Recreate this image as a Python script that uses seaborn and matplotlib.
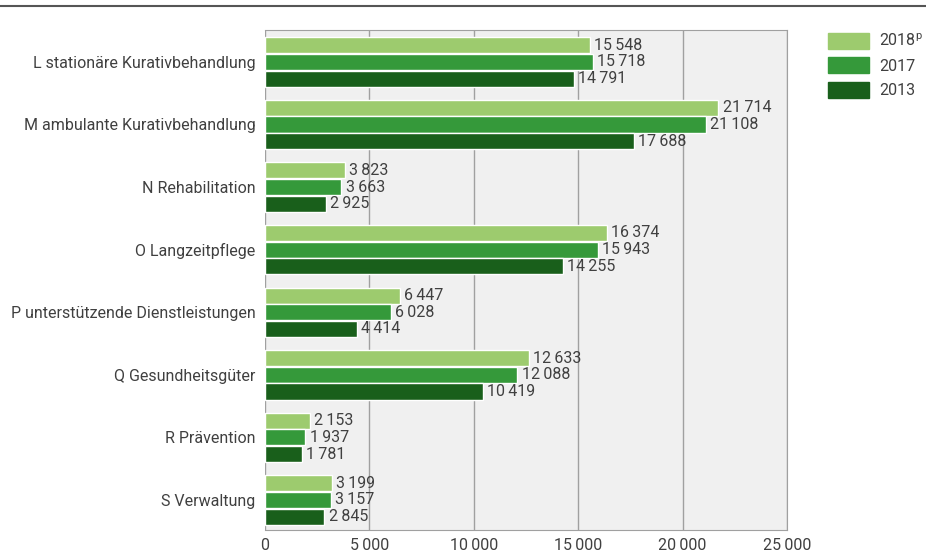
import matplotlib
matplotlib.use("Agg")
import matplotlib.pyplot as plt
import matplotlib.patches as mpatches
import seaborn as sns
import pandas as pd

categories = [
    "L stationäre Kurativbehandlung",
    "M ambulante Kurativbehandlung",
    "N Rehabilitation",
    "O Langzeitpflege",
    "P unterstützende Dienstleistungen",
    "Q Gesundheitsgüter",
    "R Prävention",
    "S Verwaltung",
]
years = ["2018", "2017", "2013"]
values_2018 = [15548, 21714, 3823, 16374, 6447, 12633, 2153, 3199]
values_2017 = [15718, 21108, 3663, 15943, 6028, 12088, 1937, 3157]
values_2013 = [14791, 17688, 2925, 14255, 4414, 10419, 1781, 2845]
legend_labels = ["2018$^{\\mathsf{p}}$", "2017", "2013"]
x_ticks = [0, 5000, 10000, 15000, 20000, 25000]

colors = ["#9dcb6e", "#35993a", "#195f1b"]
text_color = "#404040"
fs = 11.5

# long format table for seaborn
df = pd.DataFrame({
    "kategorie": categories * 3,
    "jahr": [y for y in years for _ in categories],
    "wert": values_2018 + values_2017 + values_2013,
})

sns.set_style("white")
plt.rcParams["font.family"] = ["Roboto", "DejaVu Sans"]
plt.rcParams["mathtext.fontset"] = "custom"
plt.rcParams["mathtext.sf"] = "Roboto"

fig = plt.figure(figsize=(9.26, 5.58), dpi=100)
ax = fig.add_axes([265 / 926, 1 - 530 / 558, (787 - 265) / 926, 500 / 558])
ax.set_facecolor("#f0f0f0")

sns.barplot(data=df, y="kategorie", x="wert", hue="jahr", hue_order=years,
            palette=colors, orient="h", width=0.8, gap=0.04,
            saturation=1, legend=False, ax=ax)


def fmt(v):
    return f"{int(round(v)):,}".replace(",", "\u2009")


for container in ax.containers:
    ax.bar_label(container, labels=[fmt(v) for v in container.datavalues],
                 padding=3, fontsize=fs, color=text_color)

ax.set_xlim(0, 25000)
ax.set_ylim(7.48, -0.51)
ax.set_xticks(x_ticks)
ax.set_xticklabels([fmt(t) for t in x_ticks], fontsize=fs, color=text_color)
ax.grid(axis="x", color="#a0a0a0", linewidth=1)
ax.set_axisbelow(True)
ax.set_xlabel("")
ax.set_ylabel("")
ax.tick_params(axis="x", direction="inout", length=8, color="#909090",
               width=1, pad=2)
ax.tick_params(axis="y", length=0, labelsize=fs, labelcolor=text_color, pad=7)
for side in ["top", "right", "bottom"]:
    ax.spines[side].set_visible(True)
    ax.spines[side].set_color("#a0a0a0")
ax.spines["left"].set_visible(False)

handles = [mpatches.Patch(color=c) for c in colors]
fig.legend(handles, legend_labels, loc="upper left",
           bbox_to_anchor=(815 / 926, 1 - 20 / 558), frameon=False,
           fontsize=fs, handlelength=2.6, handleheight=1.15,
           labelspacing=0.5, handletextpad=0.6, borderpad=0.3,
           labelcolor=text_color)

# horizontal rule at the top
fig.add_artist(plt.Line2D([0, 1], [1 - 6 / 558, 1 - 6 / 558],
                          color="#555555", linewidth=1.5,
                          transform=fig.transFigure))

fig.savefig("out.png", dpi=100)
